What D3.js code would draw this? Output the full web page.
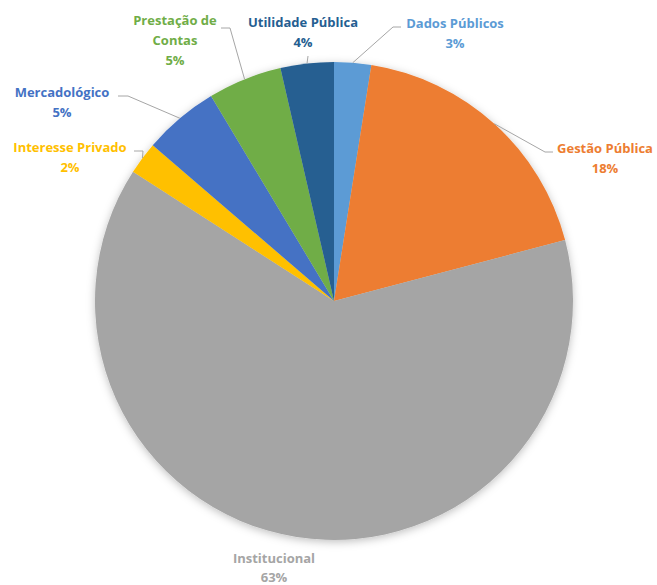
<!DOCTYPE html>
<html>
<head>
<meta charset="utf-8">
<script src="https://cdn.jsdelivr.net/npm/d3@7"></script>
<style>
  body { margin: 0; background: #fff; }
  text { font-family: "Open Sans", Lato, sans-serif; font-weight: bold; font-size: 13px; }
</style>
</head>
<body>
<svg id="chart" width="657" height="585"></svg>
<script>
// slices, clockwise from 12 o'clock
const categories = ['Dados Públicos', 'Gestão Pública', 'Institucional', 'Interesse Privado', 'Mercadológico', 'Prestação de Contas', 'Utilidade Pública'];
const shares = [2.5, 18.4, 63.2, 2.2, 5.1, 5.0, 3.6];
const colors = ['#5B9BD5', '#ED7D31', '#A5A5A5', '#FFC000', '#4472C4', '#70AD47', '#255E91'];

// label placement: text lines, anchor x, first baseline, line gap, leader (elbow + end)
const labelLayout = {
    'Dados Públicos':      {lines: ['Dados Públicos'], x: 455, y: 28, gap: 20, path: [[393, 27], [401, 27]]},
    'Gestão Pública':      {lines: ['Gestão Pública'], x: 605, y: 153, gap: 20, path: [[545, 152], [553, 152]]},
    'Institucional':       {lines: ['Institucional'], x: 274, y: 563, gap: 18.5, path: null},
    'Interesse Privado':   {lines: ['Interesse Privado'], x: 70, y: 152, gap: 20, path: [[143, 151], [134, 151]]},
    'Mercadológico':       {lines: ['Mercadológico'], x: 62, y: 97, gap: 20, path: [[128, 96], [118, 96]]},
    'Prestação de Contas': {lines: ['Prestação de', 'Contas'], x: 175, y: 25, gap: 20, path: [[230, 28], [221, 28]]},
    'Utilidade Pública':   {lines: ['Utilidade Pública'], x: 303, y: 27, gap: 20, path: [[308, 56]]}
};

const svg = d3.select('#chart');
const cx = 334, cy = 301, r = 239;

const defs = svg.append('defs');
defs.append('filter').attr('id', 'shadow')
    .attr('x', '-10%').attr('y', '-10%').attr('width', '120%').attr('height', '120%')
    .append('feDropShadow')
    .attr('dx', 0).attr('dy', 2).attr('stdDeviation', 4)
    .attr('flood-color', '#000').attr('flood-opacity', 0.25);

const pie = d3.pie().sort(null).value(d => d);
const arcs = pie(shares);
const arc = d3.arc().innerRadius(0).outerRadius(r);

const g = svg.append('g').attr('transform', `translate(${cx},${cy})`);
g.append('g').attr('filter', 'url(#shadow)')
    .selectAll('path')
    .data(arcs)
    .join('path')
    .attr('d', arc)
    .attr('fill', (d, i) => colors[i]);

// leader lines
const line = d3.line();
arcs.forEach((d, i) => {
    const lay = labelLayout[categories[i]];
    if (!lay.path) return;
    const a = (d.startAngle + d.endAngle) / 2;
    const start = [cx + r * Math.sin(a), cy - r * Math.cos(a)];
    svg.append('path')
        .attr('d', line([start, ...lay.path]))
        .attr('fill', 'none')
        .attr('stroke', '#A6A6A6')
        .attr('stroke-width', 1);
});

// labels
arcs.forEach((d, i) => {
    const lay = labelLayout[categories[i]];
    const t = svg.append('text')
        .attr('x', lay.x).attr('y', lay.y)
        .attr('text-anchor', 'middle')
        .attr('fill', colors[i]);
    lay.lines.concat([Math.round(shares[i]) + '%']).forEach((s, k) => {
        t.append('tspan').attr('x', lay.x).attr('dy', k === 0 ? 0 : lay.gap).text(s);
    });
});
</script>
</body>
</html>
